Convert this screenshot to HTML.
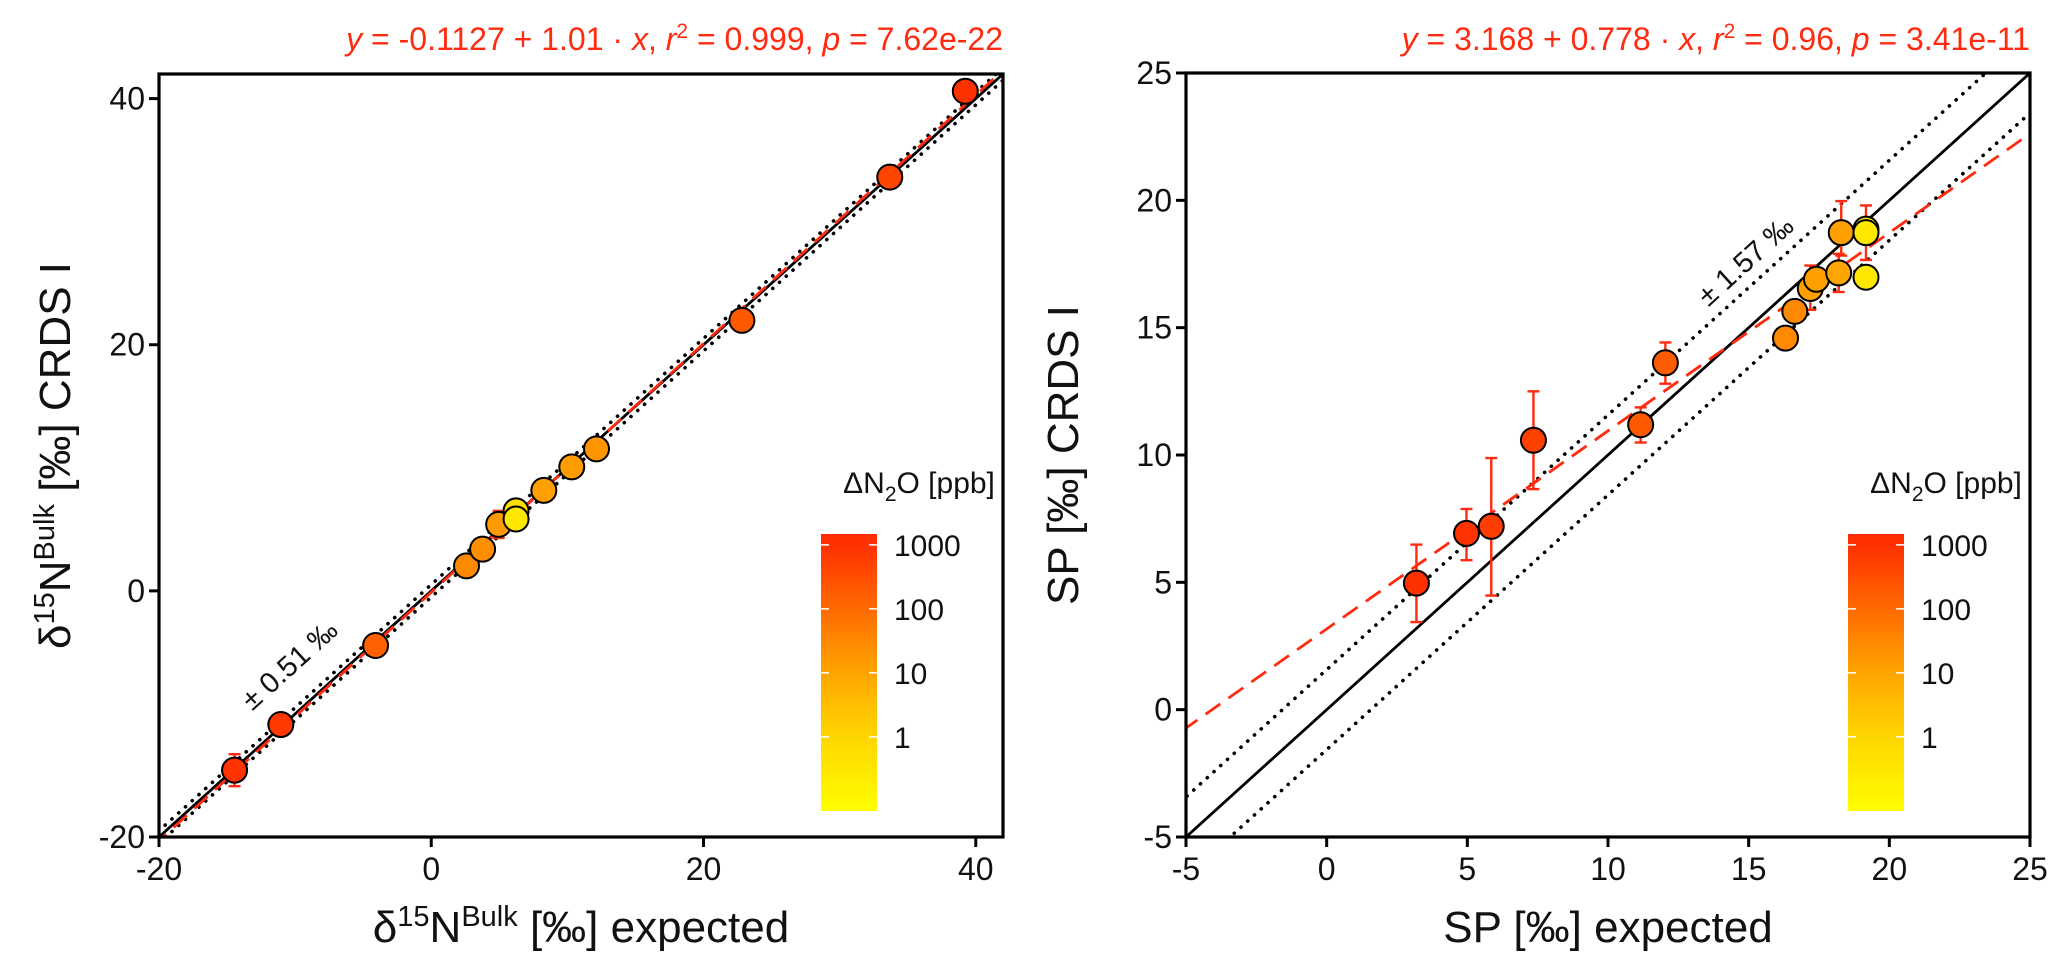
<!DOCTYPE html>
<html><head><meta charset="utf-8"><style>
html,body{margin:0;padding:0;background:#fff}
svg{display:block;font-family:"Liberation Sans",Arial,sans-serif}
</style></head><body>
<svg id="chart" width="2067" height="971" viewBox="0 0 2067 971"></svg>
<script>
// ---- Data: left panel (delta15N bulk) ----
const bulkExpected = [-14.45,-11.05,-4.09,2.59,3.77,4.95,6.23,6.23,8.27,10.32,12.14,22.82,33.68,39.23];
const bulkMeasured = [-14.57,-10.86,-4.44,2.03,3.39,5.40,6.50,5.84,8.17,10.08,11.54,21.98,33.62,40.6];
const bulkErr      = [1.3,0.3,0.3,0.3,0.3,1.1,0.3,0.3,0.3,0.3,0.3,0.3,0.3,0.3];
const bulkPpb      = [900,700,150,30,25,15,0.6,0.3,12,14,18,200,450,1000];
// ---- Data: right panel (SP) ----
const spExpected = [3.19,4.97,5.85,7.35,11.16,12.04,16.31,16.64,17.19,17.41,18.2,18.29,19.17,19.17,19.17];
const spMeasured = [4.97,6.92,7.20,10.58,11.19,13.62,14.59,15.64,16.54,16.90,17.15,18.73,16.98,18.87,18.73];
const spErrLo    = [1.53,1.05,2.72,1.92,0.70,0.82,0,0,0.84,0.4,0.75,0.9,0,0,1.07];
const spErrHi    = [1.51,0.96,2.68,1.92,0.68,0.80,0,0,0.9,0.4,0.75,1.24,0,0,1.07];
const spPpb      = [1000,900,600,500,200,180,30,30,12,12,10,12,0.3,0.4,0.3];
// ---- axis ticks ----
const bulkTicks = [-20,0,20,40];
const spTicks = [-5,0,5,10,15,20,25];
const cbTicks = [1000,100,10,1];
// fits
const bulkFit = [-0.1127,1.01];
const spFit = [3.168,0.778];
const bulkBand = 0.51, spBand = 1.57;

const NS="http://www.w3.org/2000/svg";
const svg=document.getElementById('chart');
function el(tag,attrs,parent){const e=document.createElementNS(NS,tag);for(const k in attrs)e.setAttribute(k,attrs[k]);(parent||svg).appendChild(e);return e;}

const stops=[[-1.2,[255,255,0]],[0,[255,214,0]],[1,[255,165,0]],[2,[255,106,0]],[3,[255,48,0]],[3.3,[255,40,0]]];
function col(ppb){const l=Math.log10(ppb);let i=0;while(i<stops.length-2&&l>stops[i+1][0])i++;
 const a=stops[i],b=stops[i+1];let t=(l-a[0])/(b[0]-a[0]);t=Math.max(0,Math.min(1,t));
 const c=a[1].map((v,j)=>Math.round(v+(b[1][j]-v)*t));return `rgb(${c[0]},${c[1]},${c[2]})`;}

function panel(cfg){
 const {x0,x1,y0,y1,xmin,xmax,ymin,ymax,ticks,id}=cfg;
 const X=v=>x0+(v-xmin)/(xmax-xmin)*(x1-x0);
 const Y=v=>y1-(v-ymin)/(ymax-ymin)*(y1-y0);
 const g=el('g',{});
 
 
 const cp=el('clipPath',{id:'clip-'+id},g);el('rect',{x:x0,y:y0,width:x1-x0,height:y1-y0},cp);
 const lines=el('g',{'clip-path':`url(#clip-${id})`},g);
 const one=el('line',{x1:X(xmin),y1:Y(xmin),x2:X(xmax),y2:Y(xmax),stroke:'#000','stroke-width':2.8},lines);
 
 
 [cfg.band,-cfg.band].forEach(o=>{
  const d=el('line',{x1:X(xmin-5),y1:Y(xmin-5+o),x2:X(xmax+5),y2:Y(xmax+5+o),stroke:'#000','stroke-width':3.6,'stroke-dasharray':'0.1 9','stroke-linecap':'round'},lines);
  
  
 });
 const f=el('line',{x1:X(xmin-5),y1:Y(cfg.fit[0]+cfg.fit[1]*(xmin-5)),x2:X(xmax+5),y2:Y(cfg.fit[0]+cfg.fit[1]*(xmax+5)),stroke:'#ff2a10','stroke-width':2.8,'stroke-dasharray':'18 10'},lines);
 
 
 cfg.xs.forEach((xv,i)=>{
  const lo=cfg.elo[i],hi=cfg.ehi[i]; if(!(lo>0||hi>0))return;
  const eg=el('g',{stroke:'#ff2a10','stroke-width':2.4},lines);
  
  
  const cx=X(xv),ya=Y(cfg.ys[i]+hi),yb=Y(cfg.ys[i]-lo);
  el('line',{x1:cx,y1:ya,x2:cx,y2:yb},eg);
  el('line',{x1:cx-6,y1:ya,x2:cx+6,y2:ya},eg);
  el('line',{x1:cx-6,y1:yb,x2:cx+6,y2:yb},eg);
 });
 cfg.xs.forEach((xv,i)=>{
  const c=el('circle',{cx:X(xv),cy:Y(cfg.ys[i]),r:12.5,fill:col(cfg.ppb[i]),stroke:'#000','stroke-width':2},lines);
  
  
 });
 const box=el('rect',{x:x0,y:y0,width:x1-x0,height:y1-y0,fill:'none',stroke:'#000','stroke-width':3.2},g);
 
 
 ticks.forEach(t=>{
  el('line',{x1:X(t),y1:y1,x2:X(t),y2:y1+10,stroke:'#000','stroke-width':3},g);
  const tx=el('text',{x:X(t),y:y1+43,'font-size':32,'text-anchor':'middle',fill:'#111'},g);tx.textContent=t;
  
  
  el('line',{x1:x0,y1:Y(t),x2:x0-10,y2:Y(t),stroke:'#000','stroke-width':3},g);
  const ty=el('text',{x:x0-14,y:Y(t)+11,'font-size':32,'text-anchor':'end',fill:'#111'},g);ty.textContent=t;
  
  
 });
 const ang=-Math.atan((Y(0)-Y(1))/(X(1)-X(0)))*180/Math.PI;
 const an=el('text',{x:cfg.ann[0],y:cfg.ann[1],'font-size':29,'text-anchor':'middle',fill:'#111',transform:`rotate(${ang} ${cfg.ann[0]} ${cfg.ann[1]})`},g);
 an.textContent='± '+cfg.band+' ‰';
 
 
 const cb=el('g',{},g);
 
 
 const gid='grad-'+id;const lg=el('linearGradient',{id:gid,x1:0,y1:1,x2:0,y2:0},cb);
 const cbTop=534,cbBot=811,lTop=3.17,lBot=-1.16;
 for(let k=0;k<=20;k++){const l=lBot+(lTop-lBot)*k/20;el('stop',{offset:k/20,'stop-color':col(Math.pow(10,l))},lg);}
 el('rect',{x:cfg.cbx,y:cbTop,width:56,height:cbBot-cbTop,fill:`url(#${gid})`},cb);
 const ly=v=>cbBot-(Math.log10(v)-lBot)/(lTop-lBot)*(cbBot-cbTop);
 cbTicks.forEach(t=>{
  el('line',{x1:cfg.cbx,y1:ly(t),x2:cfg.cbx+8,y2:ly(t),stroke:'#fff','stroke-width':1.5},cb);
  el('line',{x1:cfg.cbx+48,y1:ly(t),x2:cfg.cbx+56,y2:ly(t),stroke:'#fff','stroke-width':1.5},cb);
  const tt=el('text',{x:cfg.cbx+73,y:ly(t)+11,'font-size':30,fill:'#111'},cb);tt.textContent=t;
  
  
 });
 const ct=el('text',{x:cfg.cbx+28+70,y:493,'font-size':30,'text-anchor':'middle',fill:'#111'},cb);
 ct.innerHTML='ΔN<tspan dy="8" font-size="21">2</tspan><tspan dy="-8">O [ppb]</tspan>';
 
 
 const eq=el('text',{x:x1,y:50,'font-size':32,'text-anchor':'end',fill:'#ff2a10'},g);
 eq.innerHTML=cfg.eq;
 
 
 const xt=el('text',{x:(x0+x1)/2,y:942,'font-size':44,'text-anchor':'middle',fill:'#111'},g);
 xt.innerHTML=cfg.xt;
 
 
 const yt=el('text',{x:cfg.ytx,y:(y0+y1)/2,'font-size':44,'text-anchor':'middle',fill:'#111',transform:`rotate(-90 ${cfg.ytx} ${(y0+y1)/2})`},g);
 yt.innerHTML=cfg.yt;
 
 
}

panel({id:'bulk',x0:159,x1:1003,y0:74,y1:837,xmin:-20,xmax:42,ymin:-20,ymax:42,ticks:bulkTicks,
 xs:bulkExpected,ys:bulkMeasured,elo:bulkErr,ehi:bulkErr,ppb:bulkPpb,fit:bulkFit,band:bulkBand,
 ann:[296,672],cbx:821,ytx:70,
 eq:'<tspan font-style="italic">y</tspan> = -0.1127 + 1.01 · <tspan font-style="italic">x</tspan>,  <tspan font-style="italic">r</tspan><tspan dy="-12" font-size="21">2</tspan><tspan dy="12"> = 0.999,  </tspan><tspan font-style="italic">p</tspan> = 7.62e-22',
 xt:'δ<tspan dy="-16" font-size="29">15</tspan><tspan dy="16">N</tspan><tspan dy="-16" font-size="29">Bulk</tspan><tspan dy="16"> [‰] expected</tspan>',
 yt:'δ<tspan dy="-16" font-size="29">15</tspan><tspan dy="16">N</tspan><tspan dy="-16" font-size="29">Bulk</tspan><tspan dy="16"> [‰] CRDS I</tspan>'});
panel({id:'sp',x0:1186,x1:2030,y0:73,y1:837,xmin:-5,xmax:25,ymin:-5,ymax:25,ticks:spTicks,
 xs:spExpected,ys:spMeasured,elo:spErrLo,ehi:spErrHi,ppb:spPpb,fit:spFit,band:spBand,
 ann:[1752,268],cbx:1848,ytx:1078,
 eq:'<tspan font-style="italic">y</tspan> = 3.168 + 0.778 · <tspan font-style="italic">x</tspan>,  <tspan font-style="italic">r</tspan><tspan dy="-12" font-size="21">2</tspan><tspan dy="12"> = 0.96,  </tspan><tspan font-style="italic">p</tspan> = 3.41e-11',
 xt:'SP [‰] expected', yt:'SP [‰] CRDS I'});
</script>
</body></html>
